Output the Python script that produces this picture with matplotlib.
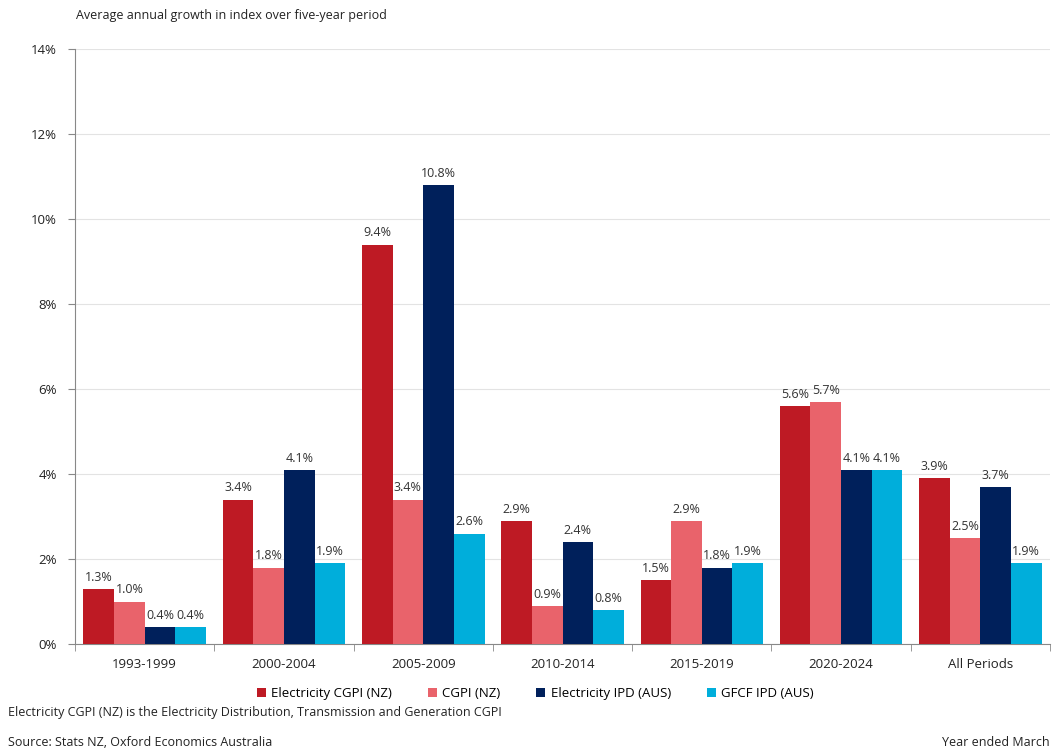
import numpy as np
import matplotlib
matplotlib.use("Agg")
from matplotlib import pyplot as plt
from matplotlib.ticker import FuncFormatter, FixedLocator

plt.rcParams["font.family"] = ["Open Sans", "DejaVu Sans"]

periods = ["1993-1999", "2000-2004", "2005-2009", "2010-2014", "2015-2019", "2020-2024", "All Periods"]
series_names = ["Electricity CGPI (NZ)", "CGPI (NZ)", "Electricity IPD (AUS)", "GFCF IPD (AUS)"]
elec_cgpi_nz = [1.3, 3.4, 9.4, 2.9, 1.5, 5.6, 3.9]
cgpi_nz = [1.0, 1.8, 3.4, 0.9, 2.9, 5.7, 2.5]
elec_ipd_aus = [0.4, 4.1, 10.8, 2.4, 1.8, 4.1, 3.7]
gfcf_ipd_aus = [0.4, 1.9, 2.6, 0.8, 1.9, 4.1, 1.9]
colors = ["#BE1A24", "#E9636B", "#00205B", "#00AEDB"]

series = [elec_cgpi_nz, cgpi_nz, elec_ipd_aus, gfcf_ipd_aus]

fig = plt.figure(figsize=(10.54, 7.52), dpi=100)
ax = fig.add_axes([0.0712, 0.1436, 0.925, 0.7912])

x = np.arange(len(periods))
w = 0.22
offsets = (np.arange(4) - 1.5) * w
for vals, name, col, off in zip(series, series_names, colors, offsets):
    bars = ax.bar(x + off, vals, width=w, color=col, label=name, zorder=3)
    for b, v in zip(bars, vals):
        ax.text(b.get_x() + b.get_width() / 2, v + 0.12, f"{v:.1f}%",
                ha="center", va="bottom", fontsize=9, color="#333333")

ax.set_ylim(0, 14)
ax.set_xlim(-0.5, len(periods) - 0.5)
ax.set_yticks(np.arange(0, 15, 2))
ax.yaxis.set_major_formatter(FuncFormatter(lambda v, p: f"{v:.0f}%"))
ax.grid(axis="y", color="#E3E3E3", linewidth=0.8, zorder=0)

ax.set_xticks(x)
ax.set_xticklabels(periods)
ax.xaxis.set_minor_locator(FixedLocator(np.arange(-0.5, len(periods), 1.0)))
ax.tick_params(axis="x", which="major", length=0, pad=10, labelsize=9.5, labelcolor="#222222")
ax.tick_params(axis="x", which="minor", length=5, color="#888888")
ax.tick_params(axis="y", length=5, color="#888888", labelsize=9.5, labelcolor="#222222", pad=8)

for s in ["top", "right"]:
    ax.spines[s].set_visible(False)
for s in ["left", "bottom"]:
    ax.spines[s].set_color("#888888")
    ax.spines[s].set_linewidth(0.8)

fig.text(0.072, 0.979, "Average annual growth in index over five-year period",
         fontsize=9, color="#222222", va="center")

ax.legend(loc="center", bbox_to_anchor=(0.472, -0.084), ncol=4, frameon=False,
          fontsize=9.5, handlelength=0.7, handleheight=0.7, handletextpad=0.4,
          columnspacing=2.7)

fig.text(0.008, 0.052, "Electricity CGPI (NZ) is the Electricity Distribution, Transmission and Generation CGPI",
         fontsize=9, color="#222222", va="center")
fig.text(0.008, 0.013, "Source: Stats NZ, Oxford Economics Australia",
         fontsize=9, color="#222222", va="center")
fig.text(0.996, 0.013, "Year ended March", fontsize=9, color="#222222", va="center", ha="right")

fig.savefig("out.png", dpi=100)
